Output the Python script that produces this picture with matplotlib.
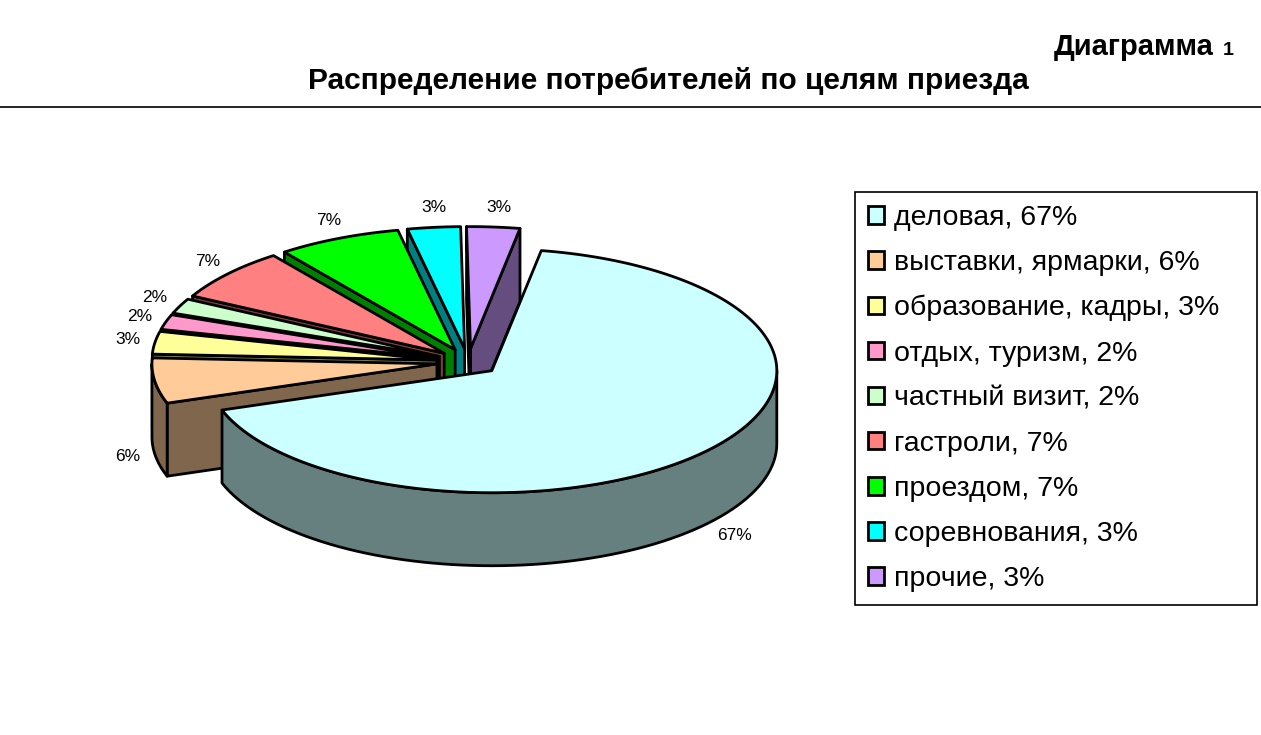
import numpy as np
import matplotlib
matplotlib.use('Agg')
import matplotlib.pyplot as plt
from matplotlib.patches import Polygon, Patch
from matplotlib.colors import to_rgb

plt.rcParams['font.family'] = ['Liberation Sans', 'DejaVu Sans']

# data
labels = ['деловая', 'выставки, ярмарки', 'образование, кадры', 'отдых, туризм',
          'частный визит', 'гастроли', 'проездом', 'соревнования', 'прочие']
values = [67, 6, 3, 2, 2, 7, 7, 3, 3]
colors = ['#CCFFFF', '#FFCC99', '#FFFF99', '#FF99CC', '#CCFFCC',
          '#FF8080', '#00FF00', '#00FFFF', '#CC99FF']

# 3d pie look (pixels)
cx, cy = 468, 362
rx, ry = 285, 122
depth = 73
explode = 0.11
start = 80.0
lw = 2.0

W, H = 1261, 735
fig = plt.figure(figsize=(W / 100, H / 100), dpi=100)
ax = fig.add_axes([0, 0, 1, 1])
ax.set_xlim(0, W)
ax.set_ylim(H, 0)
ax.axis('off')


def rim(t, off, dz=0.0):
    t = np.radians(t)
    return np.column_stack([cx + off[0] + rx * np.cos(t),
                            cy + off[1] - ry * np.sin(t) + dz])


def shade(c, f=0.5):
    return tuple(v * f for v in to_rgb(c))


total = float(sum(values))
slices = []
a_end = start
for v, c in zip(values, colors):
    span = 360.0 * v / total
    a2 = a_end
    a1 = a_end - span          # clockwise
    a_end = a1
    bis = (a1 + a2) / 2
    off = (explode * rx * np.cos(np.radians(bis)),
           -explode * ry * np.sin(np.radians(bis)))
    slices.append(dict(a1=a1, a2=a2, bis=bis, off=off, color=c, v=v))

# back to front
order = sorted(range(len(slices)), key=lambda i: -np.sin(np.radians(slices[i]['bis'])))

for i in order:
    s = slices[i]
    a1, a2, off, c = s['a1'], s['a2'], s['off'], s['color']
    apex = np.array([[cx + off[0], cy + off[1]]])
    side = shade(c)
    # radial faces
    for a, nrm in ((a1, a1 - 90), (a2, a2 + 90)):
        if np.sin(np.radians(nrm)) < 0:
            p = rim(np.array([a]), off)
            quad = np.vstack([apex, p, p + [0, depth], apex + [0, depth]])
            ax.add_patch(Polygon(quad, closed=True, fc=side, ec='black', lw=lw, joinstyle='round'))
    # outer wall (front half)
    lo, hi = a1 % 360, a1 % 360 + (a2 - a1)
    for k0 in (0, 360):
        t1 = max(lo, 180 + k0)
        t2 = min(hi, 360 + k0)
        if t2 > t1:
            ts = np.linspace(t1, t2, 80)
            top = rim(ts, off)
            bot = rim(ts[::-1], off, depth)
            ax.add_patch(Polygon(np.vstack([top, bot]), closed=True, fc=side,
                                 ec='black', lw=lw, joinstyle='round'))
    # top face
    ts = np.linspace(a1, a2, max(10, int(a2 - a1) * 2))
    ax.add_patch(Polygon(np.vstack([apex, rim(ts, off)]), closed=True, fc=c,
                         ec='black', lw=lw, joinstyle='round'))

# percent labels
for s in slices:
    t = np.radians(s['bis'])
    lx = cx + 347 * np.cos(t) + 3
    ly = cy - 155 * np.sin(t) + (depth if np.sin(t) < 0 else 0)
    ax.text(lx, ly, f"{s['v']}%", fontsize=12.5, ha='center', va='center')

# titles
ax.text(1214, 55, 'Диаграмма', fontsize=21, fontweight='bold', ha='right', va='baseline')
ax.text(1228, 55, '1', fontsize=14, fontweight='bold', ha='center', va='baseline')
ax.text(668, 89, 'Распределение потребителей по целям приезда', fontsize=21.5,
        fontweight='bold', ha='center', va='baseline')
ax.plot([0, W], [107, 107], color='black', lw=1.2)

# legend
handles = [Patch(facecolor=c, edgecolor='black', lw=2) for c in colors]
leg_labels = [f'{l}, {v}%' for l, v in zip(labels, values)]
leg = ax.legend(handles, leg_labels, loc='upper left', mode='expand',
                bbox_to_anchor=(855 / W, 1 - 600 / H, 402 / W, 408 / H), fontsize=20.5,
                frameon=True, fancybox=False, edgecolor='black', framealpha=1,
                handlelength=0.58, handleheight=0.58, handletextpad=0.35,
                labelspacing=0.67, borderpad=0.45, borderaxespad=0)
leg.get_frame().set_linewidth(1.2)

fig.savefig('out.png', dpi=100)
